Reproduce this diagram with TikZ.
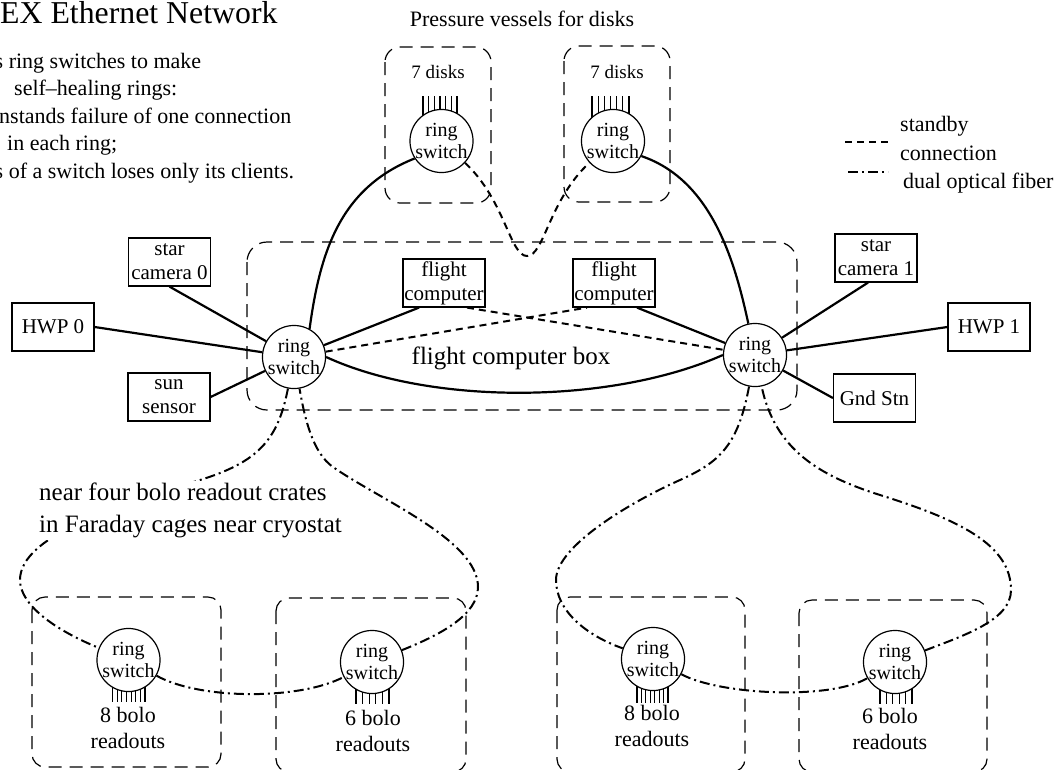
\documentclass[tikz,border=0pt]{standalone}
\usepackage{fontspec}
\setmainfont{Liberation Serif}
\pgfdeclarelayer{background}
\pgfsetlayers{background,main}
\begin{document}
\begin{tikzpicture}[x=1pt,y=-1pt,
  sw/.style={circle,draw,line width=1.2pt,fill=white,minimum size=62pt,inner sep=0pt,align=center,font=\fontsize{20}{22}\selectfont},
  dev/.style={rectangle,draw,line width=1.2pt,fill=white,minimum width=82pt,minimum height=48pt,inner sep=1pt,align=center,font=\fontsize{21}{24}\selectfont},
  encl/.style={draw,line width=1.2pt,dash pattern=on 13pt off 8pt},
  wire/.style={line width=2.2pt},
  standby/.style={line width=2pt,dash pattern=on 7pt off 5pt},
  fiber/.style={line width=2pt,dash pattern=on 10pt off 4pt on 2pt off 4pt},
  lbl/.style={inner sep=0pt,font=\fontsize{22}{27.5}\selectfont},
  rlines/.style={line width=1.1pt}
]
\useasboundingbox (0,0) rectangle (1056,769);

% titles and notes
\node[inner sep=0pt,anchor=base west,font=\fontsize{31.8}{32}\selectfont] (title) at (0,23.5) {EX Ethernet Network};
\node[lbl,anchor=base west] (n1) at (-5.5,68) {s ring switches to make};
\node[lbl,anchor=base west] (n2) at (14,95.5) {self–healing rings:};
\node[lbl,anchor=base west] (n3) at (-1,123) {nstands failure of one connection};
\node[lbl,anchor=base west] (n4) at (7,150.5) {in each ring;};
\node[lbl,anchor=base west] (n5) at (-5.5,178) {s of a switch loses only its clients.};
\node[lbl,anchor=base] (pv) at (522,26) {Pressure vessels for disks};

% enclosures
\draw[encl,rounded corners=15pt] (385,47) rectangle (491,203);
\draw[encl,rounded corners=15pt] (564,46) rectangle (670,202);
\draw[encl,rounded corners=20pt] (247,242) rectangle (797,410);
\draw[encl,rounded corners=13pt] (32,597) rectangle (221,767);
\draw[encl,rounded corners=13pt] (276,598) rectangle (466,772);
\draw[encl,rounded corners=13pt] (557,597) rectangle (745,772);
\draw[encl,rounded corners=13pt] (799,600) rectangle (987,772);

\node[inner sep=0pt,anchor=base,font=\fontsize{19}{22}\selectfont] (d7a) at (438,78) {7 disks};
\node[inner sep=0pt,anchor=base,font=\fontsize{19}{22}\selectfont] (d7b) at (617,78) {7 disks};
\node[inner sep=0pt,anchor=base,font=\fontsize{25}{30}\selectfont] (fcb) at (511,364) {flight computer box};

% switches
\node[sw] (lv) at (441.5,141) {ring\\switch};
\node[sw] (rv) at (613,141) {ring\\switch};
\node[sw] (ls) at (294,357) {ring\\switch};
\node[sw] (rs) at (755,355) {ring\\switch};
\node[sw] (A) at (128.5,660) {ring\\switch};
\node[sw] (B) at (372,662) {ring\\switch};
\node[sw] (C) at (653,659) {ring\\switch};
\node[sw] (D) at (895,662) {ring\\switch};

% devices
\node[dev] (sc0) at (169.5,262) {star\\camera 0};
\node[dev] (hwp0) at (53,327) {HWP 0};
\node[dev] (sun) at (169,397) {sun\\sensor};
\node[dev] (sc1) at (876,258) {star\\camera 1};
\node[dev] (hwp1) at (989,327) {HWP 1};
\node[dev] (gnd) at (874.5,398) {Gnd Stn};
\node[dev] (lfc) at (444,283) {flight\\computer};
\node[dev] (rfc) at (614,283) {flight\\computer};

% readout / disk lines
\begin{pgfonlayer}{background}
\foreach \i in {0,...,6} \draw[rlines] ({423+\i*5.67},96) -- ({423+\i*5.67},141);
\foreach \i in {0,...,6} \draw[rlines] ({592+\i*6.17},96) -- ({592+\i*6.17},141);
\foreach \i in {0,...,7} \draw[rlines] ({112.5+\i*4.64},660) -- ({112.5+\i*4.64},702);
\foreach \i in {0,...,5} \draw[rlines] ({356+\i*6.6},662) -- ({356+\i*6.6},704);
\foreach \i in {0,...,7} \draw[rlines] ({637+\i*4.43},659) -- ({637+\i*4.43},703);
\foreach \i in {0,...,5} \draw[rlines] ({880+\i*6.4},662) -- ({880+\i*6.4},704);
\end{pgfonlayer}

\node[inner sep=0pt,align=center,font=\fontsize{22}{26.5}\selectfont] (ra) at (128,728) {8 bolo\\readouts};
\node[inner sep=0pt,align=center,font=\fontsize{22}{26.5}\selectfont] (rb) at (373,731) {6 bolo\\readouts};
\node[inner sep=0pt,align=center,font=\fontsize{22}{26.5}\selectfont] (rc) at (652,726) {8 bolo\\readouts};
\node[inner sep=0pt,align=center,font=\fontsize{22}{26.5}\selectfont] (rd) at (890,729) {6 bolo\\readouts};

% device wires
\draw[wire] (sc0.south) -- (ls);
\draw[wire] (hwp0.east) -- (ls);
\draw[wire] (sun.east) -- (ls);
\draw[wire] ([xshift=-8pt]sc1.south) -- (rs);
\draw[wire] (hwp1.west) -- (rs);
\draw[wire] (gnd.west) -- (rs);
\draw[wire] (ls) -- ([xshift=-25pt]lfc.south);
\draw[wire] (rs) -- ([xshift=23pt]rfc.south);
\draw[standby] (ls) -- ([xshift=-27pt]rfc.south);
\draw[standby] ([xshift=23pt]lfc.south) -- (rs);
\draw[wire] (ls.east) .. controls (430,405) and (610,405) .. (rs.west);
\draw[wire] (ls.61) .. controls (320,252) and (340,188) .. (lv.213);
\draw[wire] (rs.102) .. controls (735,262) and (712,180) .. (rv.-28);
\draw[standby] (lv) .. controls (505,200) and (510,256) .. (527,256) .. controls (544,256) and (549,200) .. (rv);

% fiber rings
\draw[fiber] (ls) .. controls (278,440) and (258,462) .. (200,480) .. controls (120,505) and (20,535) .. (20,580) .. controls (20,605) and (55,630) .. (A);
\draw[fiber] (A) .. controls (200,700) and (300,700) .. (B);
\draw[fiber] (B) .. controls (440,635) and (478,615) .. (478,587) .. controls (478,540) and (380,500) .. (333,467) .. controls (313,453) and (305,420) .. (ls);
\draw[fiber] (rs) .. controls (738,445) and (720,462) .. (680,480) .. controls (635,500) and (556,545) .. (556,580) .. controls (556,610) and (585,635) .. (C);
\draw[fiber] (C) .. controls (720,695) and (830,700) .. (D);
\draw[fiber] (D) .. controls (965,635) and (1011,620) .. (1011,590) .. controls (1011,545) and (960,520) .. (880,495) .. controls (820,476) and (775,450) .. (rs);

\node[inner sep=2pt,fill=white,align=left,anchor=west,font=\fontsize{25}{32}\selectfont] (crates) at (37,510) {near four bolo readout crates\\in Faraday cages near cryostat};

% legend
\coordinate (s1) at (845,142);
\coordinate (s2) at (890,142);
\draw[standby] (s1) -- (s2);
\coordinate (f1) at (848,172);
\coordinate (f2) at (888,172);
\draw[fiber] (f1) -- (f2);
\node[inner sep=0pt,align=left,anchor=west,font=\fontsize{22}{29}\selectfont] (leg1) at (900,138) {standby\\connection};
\node[lbl,anchor=base west] (leg2) at (903,188) {dual optical fiber};
\end{tikzpicture}
\end{document}
